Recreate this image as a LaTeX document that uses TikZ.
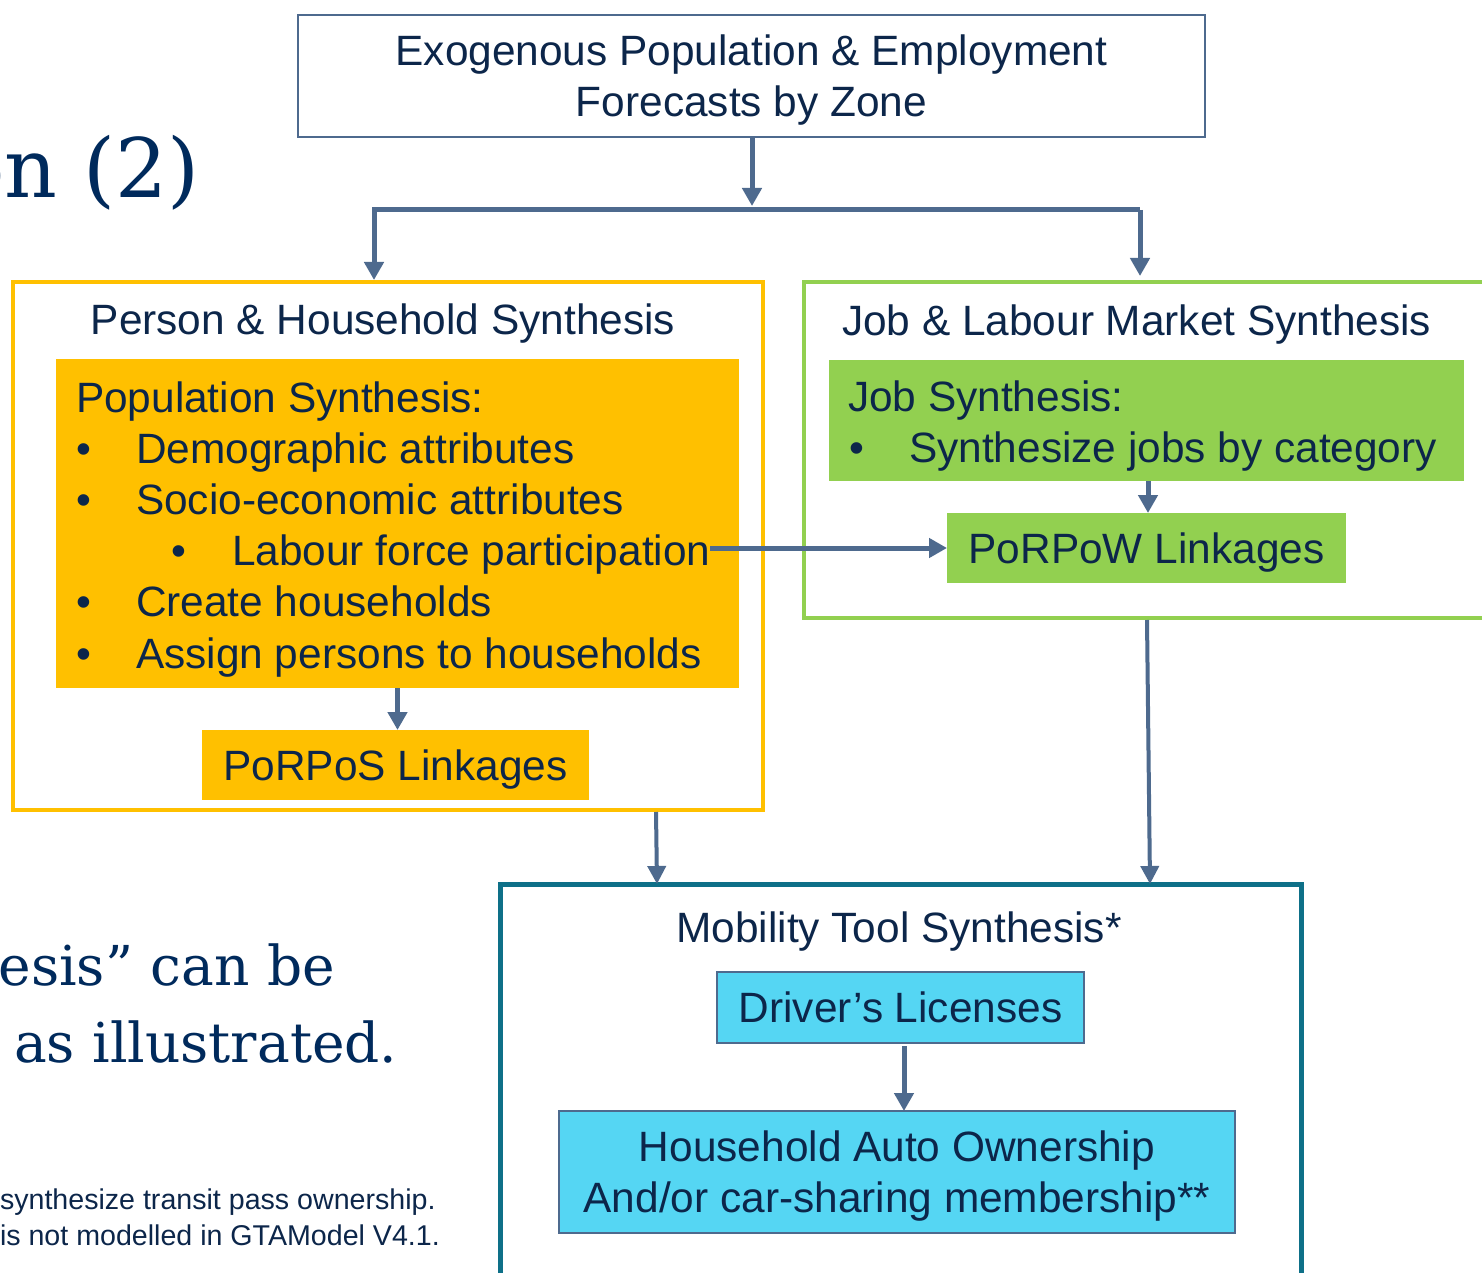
\documentclass[tikz,border=0pt]{standalone}
\usepackage{fontspec}
\setmainfont{Liberation Sans}
\newfontfamily\serifgeo{DejaVu Serif}
\usetikzlibrary{arrows.meta}
\definecolor{txt}{RGB}{12,38,74}
\definecolor{serifc}{RGB}{0,42,92}
\definecolor{arrowc}{RGB}{78,106,142}
\definecolor{orangec}{RGB}{255,192,0}
\definecolor{greenc}{RGB}{146,208,80}
\definecolor{tealc}{RGB}{14,112,136}
\definecolor{cyanc}{RGB}{85,214,243}
\begin{document}
\begin{tikzpicture}[x=0.5pt,y=-0.5pt,
  every node/.style={inner sep=0pt, outer sep=0pt, text=txt, font=\fontsize{21.2}{25.5}\selectfont},
  frame/.style={draw, rectangle},
  filled/.style={text depth=0pt},
  arr/.style={draw=arrowc, line width=2.5pt, -{Triangle[length=9pt,width=9.5pt]}},
  thinarr/.style={draw=arrowc, line width=2pt, -{Triangle[length=9pt,width=9pt]}},
  serifbig/.style={text=serifc, font=\serifgeo\fontsize{41}{41}\selectfont},
  serifmid/.style={text=serifc, font=\serifgeo\fontsize{27.5}{38}\selectfont},
  foot/.style={font=\fontsize{14.3}{18}\selectfont}]
\useasboundingbox (0,0) rectangle (1482,1273);
\fill[white] (0,0) rectangle (1482,1273);
\clip (0,0) rectangle (1482,1273);

% left slide text (cut off at the left edge)
\node[serifbig, anchor=base east] (ttl) at (200,198) {tion (2)};
\node[serifmid, anchor=base east] (s1) at (335,985) {Synthesis” can be};
\node[serifmid, anchor=base west] (s2) at (14,1062) {as illustrated.};
\node[foot, anchor=base west] (f1) at (0,1209) {synthesize transit pass ownership.};
\node[foot, anchor=base west] (f2) at (0,1245) {is not modelled in GTAModel V4.1.};

% top box
\node[frame, filled, draw=arrowc, line width=1pt, minimum width=453.5pt, minimum height=61pt, align=center]
  (exo) at (751.5,76) {Exogenous Population \& Employment\\Forecasts by Zone};

% outer boxes
\node[frame, draw=orangec, line width=2pt, minimum width=375pt, minimum height=264pt] (phs) at (388,546) {};
\node[frame, draw=greenc, line width=2pt, minimum width=348pt, minimum height=168pt] (jlm) at (1152,450) {};
\node[frame, draw=tealc, line width=2.5pt, minimum width=400.5pt, minimum height=203pt] (mts) at (900.5,1087) {};

% titles
\node[anchor=base] (phst) at (383,334) {Person \& Household Synthesis};
\node[anchor=base west] (jlmt) at (842,335) {Job \& Labour Market Synthesis};
\node[anchor=base] (mtst) at (899,942) {Mobility Tool Synthesis*};

% population synthesis block
\node[fill=orangec, minimum width=341.5pt, minimum height=164.5pt] (popsyn) at (397.5,523.5) {};
\node[anchor=base west] (p0) at (76,412) {Population Synthesis:};
\node[anchor=base west] (b1) at (76,463) {\textbullet};
\node[anchor=base west] (p1) at (136,463) {Demographic attributes};
\node[anchor=base west] (b2) at (76,514) {\textbullet};
\node[anchor=base west] (p2) at (136,514) {Socio-economic attributes};
\node[anchor=base west] (b3) at (171,565) {\textbullet};
\node[anchor=base west] (lfp) at (232,565) {Labour force participation};
\node[anchor=base west] (b4) at (76,616) {\textbullet};
\node[anchor=base west] (p4) at (136,616) {Create households};
\node[anchor=base west] (b5) at (76,668) {\textbullet};
\node[anchor=base west] (p5) at (136,668) {Assign persons to households};

\node[filled, fill=orangec, minimum width=193.5pt, minimum height=35pt] (porpos) at (395.5,765) {PoRPoS Linkages};

% job synthesis block
\node[fill=greenc, minimum width=317.5pt, minimum height=60.5pt] (jobsyn) at (1146.5,420.5) {};
\node[anchor=base west] (j0) at (848,411) {Job Synthesis:};
\node[anchor=base west] (jb) at (849,462) {\textbullet};
\node[anchor=base west] (j1) at (909,462) {Synthesize jobs by category};

\node[filled, fill=greenc, minimum width=199.5pt, minimum height=35pt] (porpow) at (1146.5,548) {PoRPoW Linkages};

% mobility tools
\node[frame, filled, draw=arrowc, line width=1pt, fill=cyanc, minimum width=183.5pt, minimum height=35.5pt] (drv) at (900.5,1007.5) {Driver’s Licenses};
\node[frame, filled, draw=arrowc, line width=1pt, fill=cyanc, minimum width=338pt, minimum height=61pt, align=center] (hh) at (897,1172) {Household Auto Ownership\\And/or car-sharing membership**};

% connectors
\coordinate (split) at (752,210);
\coordinate (jl) at (374,210);
\coordinate (jr) at (1140,210);
\draw[arr, shorten >=2pt] (exo.south -| split) -- (split);
\draw[arr, line join=miter] (jr) -- (jl) -- ([yshift=1pt]jl |- phs.north);
\draw[arr] (jr) -- ([yshift=3pt]jr |- jlm.north);
\draw[arr] (popsyn.south) -- (popsyn.south |- porpos.north);
\draw[arr] ([xshift=0.75pt]jobsyn.south) -- ([xshift=0.75pt]jobsyn.south |- porpow.north);
\draw[arr] (lfp.east |- porpow.west) -- (porpow.west);
\draw[thinarr] ([xshift=-53.5pt,yshift=-1pt]phs.south east) -- ([xshift=78.5pt]mts.north west);
\draw[thinarr] ([xshift=171.5pt,yshift=-1pt]jlm.south west) -- ([xshift=325pt]mts.north west);
\draw[arr] ([xshift=1.75pt,yshift=-1.5pt]drv.south) -- ([xshift=1.75pt]drv.south |- hh.north);
\end{tikzpicture}
\end{document}
